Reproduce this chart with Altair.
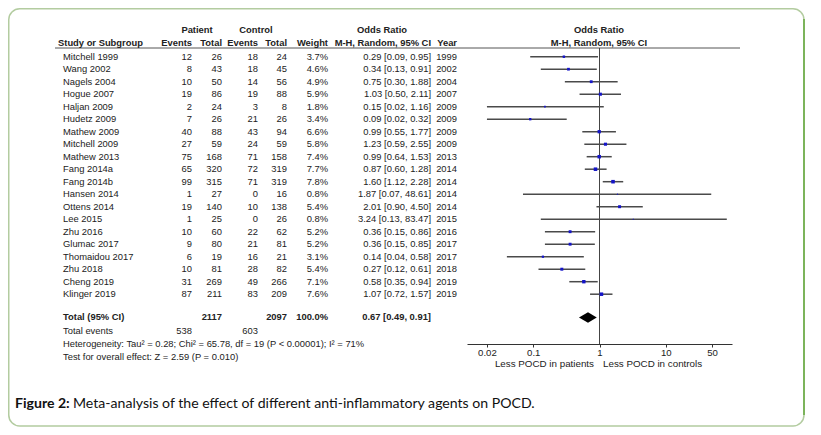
import altair as alt
import pandas as pd

studies = ["Mitchell 1999", "Wang 2002", "Nagels 2004", "Hogue 2007", "Haljan 2009",
           "Hudetz 2009", "Mathew 2009", "Mitchell 2009", "Mathew 2013", "Fang 2014a",
           "Fang 2014b", "Hansen 2014", "Ottens 2014", "Lee 2015", "Zhu 2016",
           "Glumac 2017", "Thomaidou 2017", "Zhu 2018", "Cheng 2019", "Klinger 2019"]
p_events = [12, 8, 10, 19, 2, 7, 40, 27, 75, 65, 99, 1, 19, 1, 10, 9, 6, 10, 31, 87]
p_total = [26, 43, 50, 86, 24, 26, 88, 59, 168, 320, 315, 27, 140, 25, 60, 80, 19, 81, 269, 211]
c_events = [18, 18, 14, 19, 3, 21, 43, 24, 71, 72, 71, 0, 10, 0, 22, 21, 16, 28, 49, 83]
c_total = [24, 45, 56, 88, 8, 26, 94, 59, 158, 319, 319, 16, 138, 26, 62, 81, 21, 82, 266, 209]
weights = [3.7, 4.6, 4.9, 5.9, 1.8, 3.4, 6.6, 5.8, 7.4, 7.7, 7.8, 0.8, 5.4, 0.8, 5.2, 5.2, 3.1, 5.4, 7.1, 7.6]
or_est = [0.29, 0.34, 0.75, 1.03, 0.15, 0.09, 0.99, 1.23, 0.99, 0.87, 1.60, 1.87, 2.01, 3.24,
          0.36, 0.36, 0.14, 0.27, 0.58, 1.07]
ci_low = [0.09, 0.13, 0.30, 0.50, 0.02, 0.02, 0.55, 0.59, 0.64, 0.60, 1.12, 0.07, 0.90, 0.13,
          0.15, 0.15, 0.04, 0.12, 0.35, 0.72]
ci_high = [0.95, 0.91, 1.88, 2.11, 1.16, 0.32, 1.77, 2.55, 1.53, 1.28, 2.28, 48.61, 4.50, 83.47,
           0.86, 0.85, 0.58, 0.61, 0.94, 1.57]
years = [1999, 2002, 2004, 2007, 2009, 2009, 2009, 2009, 2013, 2014, 2014, 2014, 2014, 2015,
         2016, 2017, 2017, 2018, 2019, 2019]

pooled = [0.49, 0.67, 0.91]
total_patients = 2117
total_controls = 2097
events_patients = 538
events_controls = 603
axis_ticks = [0.02, 0.1, 1, 10, 50]

df = pd.DataFrame({
    "study": studies, "pe": p_events, "pt": p_total, "ce": c_events, "ct": c_total,
    "w": weights, "est": or_est, "lo": ci_low, "hi": ci_high, "year": years,
})
df["row"] = list(range(len(df)))
df["wtxt"] = [f"{w:.1f}%" for w in weights]
df["ortxt"] = [f"{o:.2f} [{l:.2f}, {h:.2f}]" for o, l, h in zip(or_est, ci_low, ci_high)]

FONT = "Liberation Sans"
FS = 9.4
TXT = "#222222"

yscale = alt.Scale(domain=[0, 20], range=[48.7, 298.7], zero=False, nice=False)
xscale = alt.Scale(type="log", domain=[0.01, 100], range=[459, 724])
xaxis = alt.Axis(values=axis_ticks, format="~g", title=None, grid=False,
                 offset=-83, domainColor="#333333", tickColor="#333333", tickSize=3,
                 labelPadding=0, labelFontSize=9.6, labelColor=TXT, labelFont=FONT,
                 labelFlush=False)

layers = []

# border box
one = pd.DataFrame({"a": [0]})
layers.append(alt.Chart(one).mark_rect(fill="transparent", stroke="#b3cca0", strokeWidth=1.5,
                                       cornerRadius=11).encode(
    x=alt.value(0.75), x2=alt.value(796), y=alt.value(0.75), y2=alt.value(418)))
layers.append(alt.Chart(one).mark_rule(color="#63a83c", strokeWidth=1.5).encode(
    x=alt.value(796), y=alt.value(11), y2=alt.value(407)))

# header rule and vertical line at OR = 1
layers.append(alt.Chart(one).mark_rule(color="#555555", strokeWidth=1).encode(
    x=alt.value(47), x2=alt.value(732), y=alt.value(40)))
layers.append(alt.Chart(pd.DataFrame({"v": [1]})).mark_rule(color="#444444", strokeWidth=1).encode(
    x=alt.X("v:Q", scale=xscale, axis=xaxis), y=alt.value(40), y2=alt.value(336)))

# CI lines
layers.append(alt.Chart(df).mark_rule(color="#4a4a4a", strokeWidth=1.5).encode(
    x=alt.X("lo:Q", scale=xscale, axis=xaxis), x2="hi:Q",
    y=alt.Y("row:Q", scale=yscale, axis=None)))
# markers
layers.append(alt.Chart(df).mark_square(color="#1414c8", opacity=1).encode(
    x=alt.X("est:Q", scale=xscale, axis=xaxis),
    y=alt.Y("row:Q", scale=yscale, axis=None),
    size=alt.Size("w:Q", scale=alt.Scale(domain=[0, 8], range=[0, 13]), legend=None)))

# pooled diamond
TOT_ROW = 20.86
dd = pd.DataFrame({"x": pooled, "y1": [TOT_ROW, TOT_ROW - 0.42, TOT_ROW],
                   "y2": [TOT_ROW, TOT_ROW + 0.42, TOT_ROW]})
layers.append(alt.Chart(dd).mark_area(color="black", orient="vertical").encode(
    x=alt.X("x:Q", scale=xscale, axis=xaxis),
    y=alt.Y("y1:Q", scale=yscale, axis=None), y2="y2:Q"))


def col(field, px, align, bold=False, data=df, font=FONT):
    return alt.Chart(data).mark_text(align=align, baseline="middle", fontSize=FS, font=font,
                                     color=TXT, fontWeight="bold" if bold else "normal").encode(
        x=alt.value(px), y=alt.Y("row:Q", scale=yscale, axis=None), text=field)


OR_X = 423
layers += [
    col("study:N", 55, "left"),
    col("pe:Q", 184, "right"),
    col("pt:Q", 214, "right"),
    col("ce:Q", 250, "right"),
    col("ct:Q", 279, "right"),
    col("wtxt:N", 320, "right"),
    col("ortxt:N", OR_X, "right"),
    col("year:Q", 449, "right"),
]


def label(text, px, row, align, bold=False, size=FS, font=FONT, color=TXT):
    d = pd.DataFrame({"t": [text], "row": [row]})
    return alt.Chart(d).mark_text(align=align, baseline="middle", fontSize=size, font=font,
                                  color=color, fontWeight="bold" if bold else "normal").encode(
        x=alt.value(px), y=alt.Y("row:Q", scale=yscale, axis=None), text="t:N")


H1, H2 = -2.14, -1.06
layers += [
    label("Patient", 189, H1, "center", True),
    label("Control", 248, H1, "center", True),
    label("Odds Ratio", 374, H1, "center", True),
    label("Odds Ratio", 591, H1, "center", True),
    label("Study or Subgroup", 50, H2, "left", True),
    label("Events", 184, H2, "right", True),
    label("Total", 214, H2, "right", True),
    label("Events", 250, H2, "right", True),
    label("Total", 279, H2, "right", True),
    label("Weight", 320, H2, "right", True),
    label("M-H, Random, 95% CI", OR_X, H2, "right", True),
    label("Year", 449, H2, "right", True),
    label("M-H, Random, 95% CI", 591, H2, "center", True),
    label("Total (95% CI)", 55, TOT_ROW, "left", True),
    label(str(total_patients), 214, TOT_ROW, "right", True),
    label(str(total_controls), 279, TOT_ROW, "right", True),
    label("100.0%", 320, TOT_ROW, "right", True),
    label(f"{pooled[1]:.2f} [{pooled[0]:.2f}, {pooled[2]:.2f}]", OR_X, TOT_ROW, "right", True),
    label("Total events", 55, 21.94, "left"),
    label(str(events_patients), 184, 21.94, "right"),
    label(str(events_controls), 250, 21.94, "right"),
    label("Heterogeneity: Tau\u00b2 = 0.28; Chi\u00b2 = 65.78, df = 19 (P < 0.00001); I\u00b2 = 71%",
          55, 22.98, "left"),
    label("Test for overall effect: Z = 2.59 (P = 0.010)", 55, 24.02, "left"),
    label("Less POCD in patients", 586, 24.6, "right", False, 9.8),
    label("Less POCD in controls", 595, 24.6, "left", False, 9.8),
    label("Figure 2:", 7, 27.76, "left", True, 14.1, "Lato", "#111111"),
    label("Meta-analysis of the effect of different anti-inflammatory agents on POCD.",
          65, 27.76, "left", False, 14.1, "Lato", "#111111"),
]

chart = alt.layer(*layers).properties(
    width=805, height=419, padding=0,
    autosize=alt.AutoSizeParams(type="none"),
).configure_view(stroke=None)

chart.save("out.html", embed_options={"renderer": "svg", "actions": False})
